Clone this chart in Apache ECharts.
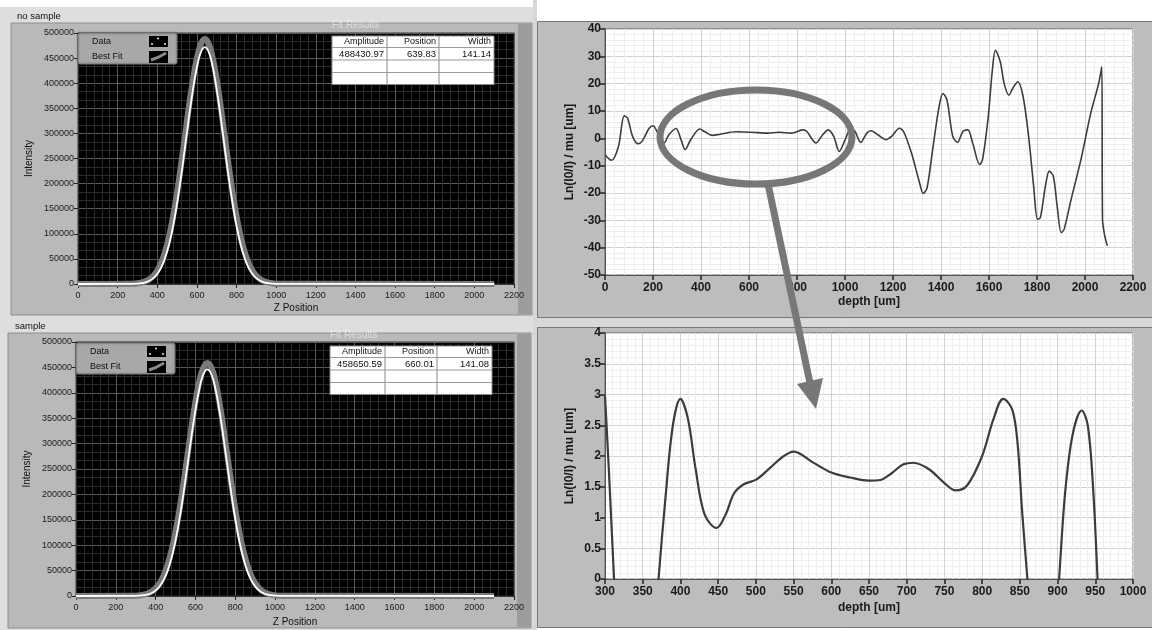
<!DOCTYPE html>
<html>
<head>
<meta charset="utf-8">
<script src="https://cdn.jsdelivr.net/npm/echarts@6/dist/echarts.min.js"></script>
<style>
  html, body { margin: 0; padding: 0; background: #fff; }
  #chart { width: 1152px; height: 630px; }
</style>
</head>
<body>
<div id="chart"></div>
<script>
// ---- data ----
// left panels: Z position vs intensity (gray = best fit, white = data)
const topX = [0,280,300,320,340,360,380,400,420,440,460,480,500,520,540,560,580,600,620,640,660,680,700,720,740,760,780,800,820,840,860,880,900,920,940,960,980,1000,2100];
const topFit = [0,700,1500,2800,5300,9500,16300,26900,42800,65300,95700,135000,182000,237000,295000,354000,407000,450000,478000,488000,478000,450000,407000,354000,295000,237000,182000,135000,95700,65300,42800,26900,16300,9500,5300,2800,1500,700,0];
const topData = [0,400,800,1700,3400,6400,11600,20000,33100,52700,79700,115800,161000,214100,272700,332200,387400,432000,461700,472000,461700,432000,387400,332200,272700,214100,161000,115800,79700,52700,33100,20000,11600,6400,3400,1700,800,400,0];

const bottomX = [0,300,320,340,360,380,400,420,440,460,480,500,520,540,560,580,600,620,640,660,680,700,720,740,760,780,800,820,840,860,880,900,920,940,960,980,1000,1020,2100];
const bottomFit = [0,700,1400,2700,5000,8900,15300,25300,40200,61500,89900,126600,171100,222400,277500,332500,382500,423300,449500,458600,449500,423300,382500,332500,277500,222400,171100,126600,89900,61500,40200,25300,15300,8900,5000,2700,1400,700,0];
const bottomData = [0,400,800,1600,3200,6000,10900,18900,31300,49500,75400,109300,152100,202500,257800,314000,366200,408500,436200,446000,436200,408500,366200,314000,257800,202500,152100,109300,75400,49500,31300,18900,10900,6000,3200,1600,800,400,0];

const tableHead = ['Amplitude', 'Position', 'Width'];
const topFitResult = ['488430.97', '639.83', '141.14'];
const bottomFitResult = ['458650.59', '660.01', '141.08'];

// right top: full depth profile
const depthX = [0,20,28,56,80,94,115,138,154,184,200,217,246,266,296,316,334,357,395,414,447,480,546,612,677,726,775,792,825,841,879,907,930,953,976,1001,1025,1042,1065,1091,1107,1137,1170,1194,1227,1244,1277,1309,1326,1342,1367,1392,1408,1425,1449,1469,1491,1512,1532,1561,1573,1597,1614,1627,1647,1663,1683,1699,1720,1742,1765,1786,1802,1814,1835,1851,1868,1884,1901,1913,1942,1983,2024,2057,2070,2073,2081,2093];
const depthY = [-6,-7.8,-8,-3,8.2,7.4,0.7,-2,-1.1,3.7,4.6,2.5,-1.7,1.3,3.6,-0.3,-4.1,-0.5,3.4,2.5,1.1,1.5,2.4,2.2,1.9,2.2,1.9,2.2,3.1,2.5,-1.7,1.3,3.1,0.7,-4.8,-0.5,3.7,2.5,-1.5,1.9,2.8,1.3,-0.5,0.7,3.7,2.5,-5.4,-15.7,-20.2,-18.1,-3,11.6,16.4,14,0.7,-1.5,2.5,3.1,-1.7,-9.6,-7.8,8,25,32.2,28,20.1,15.8,18.3,20.7,15.3,0.7,-17.5,-29.6,-29,-17.5,-12,-13.8,-24.8,-34.5,-33.3,-22.4,-7.8,9.2,20.1,26.2,-29.6,-35.1,-39.3];

// right bottom: zoom on 300..1000 um
const zoomX = [300,305,312,318,330,350,365,371,380,390,400,410,420,432,448,460,471,484,501,520,535,550,575,600,625,650,665,680,695,709,730,750,765,780,800,815,828,840,847,853,860,866,880,896,902,910,920,932,940,947,953,960,975,1000];
const zoomY = [2.98,1.8,0,-1.5,-4,-3,-1,0,1.3,2.5,2.93,2.6,1.8,1.05,0.83,1.05,1.39,1.54,1.62,1.82,1.98,2.07,1.9,1.73,1.65,1.6,1.61,1.72,1.86,1.89,1.78,1.56,1.44,1.52,2.0,2.6,2.93,2.75,2.2,1.1,0,-1,-2,-1,0,1.4,2.35,2.74,2.5,1.5,0,-2,-4.8,-1];

// ---- helpers ----
const FONT = '"Liberation Sans", Arial, sans-serif';
const pairs = (xs, ys) => xs.map((x, i) => [x, ys[i]]);
const plain = v => String(v);

function darkAxisX(gi, gap) {
  return {
    gridIndex: gi, type: 'value', min: 0, max: 2200, interval: 200,
    name: 'Z Position', nameLocation: 'middle', nameGap: gap,
    nameTextStyle: { color: '#111', fontSize: 10, fontFamily: FONT },
    axisLine: { show: true, onZero: false, lineStyle: { color: '#333' } },
    axisTick: { show: true, length: 4, lineStyle: { color: '#222' } },
    axisLabel: { color: '#1a1a1a', fontSize: 9, fontFamily: FONT, formatter: plain, margin: 7 },
    splitLine: { show: true, lineStyle: { color: '#5a5a5a' } },
    minorTick: { show: false, splitNumber: 5 },
    minorSplitLine: { show: true, lineStyle: { color: '#2c2c2c' } }
  };
}
function darkAxisY(gi) {
  return {
    gridIndex: gi, type: 'value', min: 0, max: 500000, interval: 50000,
    name: 'Intensity', nameLocation: 'middle', nameGap: 44,
    nameTextStyle: { color: '#111', fontSize: 10, fontFamily: FONT },
    axisLine: { show: true, onZero: false, lineStyle: { color: '#333' } },
    axisTick: { show: true, length: 4, lineStyle: { color: '#222' } },
    axisLabel: { color: '#1a1a1a', fontSize: 9, fontFamily: FONT, formatter: plain, margin: 4 },
    splitLine: { show: true, lineStyle: { color: '#5a5a5a' } },
    minorTick: { show: false, splitNumber: 3 },
    minorSplitLine: { show: true, lineStyle: { color: '#2c2c2c' } }
  };
}
function lightAxis(gi, min, max, interval, name, gap, isY) {
  return {
    gridIndex: gi, type: 'value', min: min, max: max, interval: interval,
    name: name, nameLocation: 'middle', nameGap: gap,
    nameTextStyle: { color: '#1a1a1a', fontSize: 12, fontFamily: FONT, fontWeight: 'bold' },
    axisLine: { show: true, onZero: false, lineStyle: { color: '#555' } },
    axisTick: { show: true, length: 5, lineStyle: { color: '#222', width: 1.5 } },
    axisLabel: { color: '#1a1a1a', fontSize: 12, fontFamily: FONT, fontWeight: 'bold', formatter: plain, margin: isY ? 4 : 7 },
    splitLine: { show: true, lineStyle: { color: '#d2d2d2' } },
    minorTick: { show: false, splitNumber: 5 },
    minorSplitLine: { show: true, lineStyle: { color: '#eeeeee' } }
  };
}

// ---- panel decoration (LabVIEW front panel look) ----
function legendBox(x, y) {
  return [
    { type: 'rect', z: 50, shape: { x: x, y: y, width: 99, height: 31, r: 2 },
      style: { fill: '#a8a8a8', stroke: '#7d7d7d', lineWidth: 1, shadowBlur: 2, shadowColor: 'rgba(0,0,0,0.4)' } },
    { type: 'text', z: 51, style: { text: 'Data', x: x + 14, y: y + 9, fill: '#111', fontSize: 9, fontFamily: FONT, verticalAlign: 'middle', textVerticalAlign: 'middle' } },
    { type: 'text', z: 51, style: { text: 'Best Fit', x: x + 14, y: y + 24, fill: '#111', fontSize: 9, fontFamily: FONT, verticalAlign: 'middle', textVerticalAlign: 'middle' } },
    { type: 'rect', z: 51, shape: { x: x + 71, y: y + 3, width: 19, height: 11 }, style: { fill: '#000' } },
    { type: 'circle', z: 52, shape: { cx: x + 74, cy: y + 11, r: 0.9 }, style: { fill: '#fff' } },
    { type: 'circle', z: 52, shape: { cx: x + 80, cy: y + 5.5, r: 0.9 }, style: { fill: '#fff' } },
    { type: 'circle', z: 52, shape: { cx: x + 87, cy: y + 11, r: 0.9 }, style: { fill: '#fff' } },
    { type: 'rect', z: 51, shape: { x: x + 71, y: y + 18, width: 19, height: 12 }, style: { fill: '#000' } },
    { type: 'polyline', z: 52, shape: { points: [[x + 73, y + 27], [x + 80, y + 24.5], [x + 88, y + 20]] }, style: { stroke: '#8a8a8a', lineWidth: 3, fill: 'none' } }
  ];
}
function fitTable(x, y, values) {
  const colX = [x, x + 55, x + 107, x + 162];
  const rowY = [y, y + 11.5, y + 24, y + 36.5, y + 48.5];
  const els = [
    { type: 'text', z: 50, style: { text: 'Fit Results', x: x, y: y - 11, fill: 'rgba(255,255,255,0.55)', fontSize: 10, fontFamily: FONT, verticalAlign: 'middle', textVerticalAlign: 'middle' } },
    { type: 'rect', z: 50, shape: { x: x, y: y, width: 162, height: 48.5 }, style: { fill: '#fff', stroke: '#8a8a8a', lineWidth: 1 } }
  ];
  for (let r = 1; r < 4; r++) {
    els.push({ type: 'line', z: 51, shape: { x1: x, y1: rowY[r], x2: x + 162, y2: rowY[r] }, style: { stroke: '#9a9a9a', lineWidth: 1.2 } });
  }
  for (let c = 1; c < 3; c++) {
    els.push({ type: 'line', z: 51, shape: { x1: colX[c], y1: y, x2: colX[c], y2: y + 48.5 }, style: { stroke: '#9a9a9a', lineWidth: 1.2 } });
  }
  for (let c = 0; c < 3; c++) {
    els.push({ type: 'text', z: 52, style: { text: tableHead[c], x: colX[c + 1] - 3, y: rowY[0] + 6, fill: '#111', fontSize: 9, fontFamily: FONT, align: 'right', textAlign: 'right', verticalAlign: 'middle', textVerticalAlign: 'middle' } });
    els.push({ type: 'text', z: 52, style: { text: values[c], x: colX[c + 1] - 3, y: rowY[1] + 6.5, fill: '#111', fontSize: 9.5, fontFamily: FONT, align: 'right', textAlign: 'right', verticalAlign: 'middle', textVerticalAlign: 'middle' } });
  }
  return els;
}

const graphics = [
  // left column background + header strips
  { type: 'rect', z: -20, shape: { x: 0, y: 7, width: 535, height: 623 }, style: { fill: '#dedede' } },
  { type: 'text', z: -5, style: { text: 'no sample', x: 17, y: 16, fill: '#111', fontSize: 9.5, fontFamily: FONT, verticalAlign: 'middle', textVerticalAlign: 'middle' } },
  { type: 'rect', z: -15, shape: { x: 11, y: 23, width: 521, height: 292 }, style: { fill: '#b9b9b9', stroke: '#8e8e8e', lineWidth: 1 } },
  { type: 'rect', z: -14, shape: { x: 518, y: 24, width: 14, height: 290 }, style: { fill: '#9c9c9c' } },
  { type: 'text', z: -5, style: { text: 'sample', x: 15, y: 326, fill: '#111', fontSize: 9.5, fontFamily: FONT, verticalAlign: 'middle', textVerticalAlign: 'middle' } },
  { type: 'rect', z: -15, shape: { x: 8, y: 333, width: 523, height: 295 }, style: { fill: '#b9b9b9', stroke: '#8e8e8e', lineWidth: 1 } },
  { type: 'rect', z: -14, shape: { x: 517, y: 334, width: 14, height: 293 }, style: { fill: '#9c9c9c' } },
  // right column panels
  { type: 'rect', z: -20, shape: { x: 533, y: 0, width: 4, height: 630 }, style: { fill: '#d6d6d6' } },
  { type: 'rect', z: -20, shape: { x: 537, y: 318, width: 615, height: 9 }, style: { fill: '#d9d9d9' } },
  { type: 'rect', z: -15, shape: { x: 537.5, y: 21.5, width: 620, height: 296 }, style: { fill: '#bdbdbd', stroke: '#777', lineWidth: 1 } },
  { type: 'rect', z: -15, shape: { x: 537.5, y: 327.5, width: 620, height: 300 }, style: { fill: '#bdbdbd', stroke: '#777', lineWidth: 1 } }
]
  .concat(legendBox(78, 33))
  .concat(legendBox(76, 343))
  .concat(fitTable(332, 36, topFitResult))
  .concat(fitTable(330, 346, bottomFitResult))
  .concat([
    // annotation: ellipse + arrow
    { type: 'ellipse', z: 100, shape: { cx: 756, cy: 137, rx: 96, ry: 47 }, style: { fill: 'none', stroke: '#777', lineWidth: 7 } },
    { type: 'line', z: 100, shape: { x1: 768, y1: 184, x2: 810, y2: 383 }, style: { stroke: '#777', lineWidth: 7 } },
    { type: 'polygon', z: 100, shape: { points: [[816, 409], [823, 378], [797, 384]] }, style: { fill: '#777' } }
  ]);

const chart = echarts.init(document.getElementById('chart'));
const option = {
  animation: false,
  backgroundColor: '#fff',
  graphic: graphics,
  grid: [
    { left: 78, top: 33, width: 436, height: 251, show: true, backgroundColor: '#000', borderColor: '#333', borderWidth: 1 },
    { left: 76, top: 342, width: 438, height: 254, show: true, backgroundColor: '#000', borderColor: '#333', borderWidth: 1 },
    { left: 605, top: 29, width: 528, height: 246, show: true, backgroundColor: '#fff', borderColor: '#666', borderWidth: 1 },
    { left: 605, top: 333, width: 528, height: 246, show: true, backgroundColor: '#fff', borderColor: '#666', borderWidth: 1 }
  ],
  xAxis: [
    darkAxisX(0, 19),
    darkAxisX(1, 21),
    lightAxis(2, 0, 2200, 200, 'depth [um]', 21, false),
    lightAxis(3, 300, 1000, 50, 'depth [um]', 23, false)
  ],
  yAxis: [
    darkAxisY(0),
    darkAxisY(1),
    lightAxis(2, -50, 40, 10, 'Ln(I0/I) / mu [um]', 29, true),
    lightAxis(3, 0, 4, 0.5, 'Ln(I0/I) / mu [um]', 29, true)
  ],
  series: [
    { name: 'Best Fit', type: 'line', xAxisIndex: 0, yAxisIndex: 0, data: pairs(topX, topFit), smooth: true, showSymbol: false, lineStyle: { color: '#7a7a7a', width: 6 } },
    { name: 'Data', type: 'line', xAxisIndex: 0, yAxisIndex: 0, data: pairs(topX, topData), smooth: true, showSymbol: false, lineStyle: { color: '#ffffff', width: 1.8 } },
    { name: 'Best Fit', type: 'line', xAxisIndex: 1, yAxisIndex: 1, data: pairs(bottomX, bottomFit), smooth: true, showSymbol: false, lineStyle: { color: '#7a7a7a', width: 6 } },
    { name: 'Data', type: 'line', xAxisIndex: 1, yAxisIndex: 1, data: pairs(bottomX, bottomData), smooth: true, showSymbol: false, lineStyle: { color: '#ffffff', width: 1.8 } },
    { name: 'profile', type: 'line', xAxisIndex: 2, yAxisIndex: 2, data: pairs(depthX, depthY), smooth: 0.3, showSymbol: false, lineStyle: { color: '#3c3c3c', width: 1.6 } },
    { name: 'zoom', type: 'line', xAxisIndex: 3, yAxisIndex: 3, data: pairs(zoomX, zoomY), smooth: 0.35, showSymbol: false, clip: true, lineStyle: { color: '#3c3c3c', width: 2.2 } }
  ]
};
chart.setOption(option);
</script>
</body>
</html>
